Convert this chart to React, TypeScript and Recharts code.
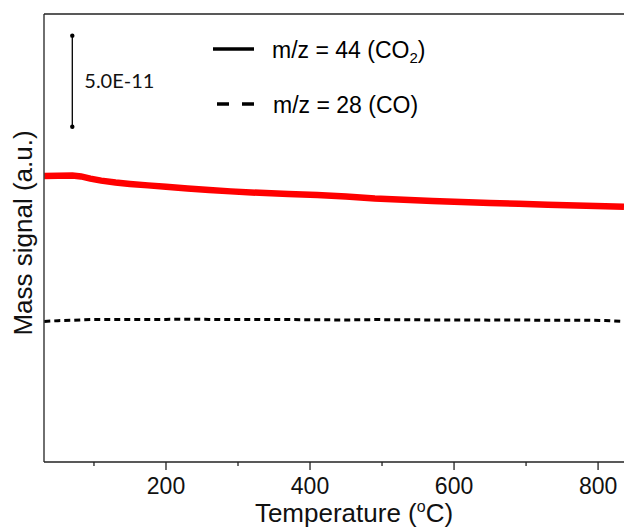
import { LineChart, Line, XAxis, YAxis, ReferenceLine, ReferenceDot } from 'recharts';

// temperature (°C) and mass signal (units of 1E-11, arbitrary offset)
const temps = [31, 50, 70, 82, 95, 110, 130, 150, 175, 200, 230, 260, 290, 330, 370, 410, 450, 490, 530, 570, 610, 650, 690, 730, 770, 810, 836];
const co2Signal = [15.71, 15.72, 15.73, 15.68, 15.56, 15.45, 15.35, 15.27, 15.19, 15.11, 15.02, 14.93, 14.86, 14.78, 14.72, 14.66, 14.58, 14.47, 14.4, 14.33, 14.28, 14.22, 14.18, 14.13, 14.08, 14.04, 14.01];
const coSignal = [7.72, 7.76, 7.78, 7.8, 7.82, 7.82, 7.82, 7.83, 7.83, 7.83, 7.84, 7.83, 7.82, 7.83, 7.82, 7.81, 7.8, 7.82, 7.81, 7.8, 7.8, 7.79, 7.8, 7.78, 7.79, 7.77, 7.72];

const xTicks = [100, 200, 300, 400, 500, 600, 700, 800];
const labelledTicks = [200, 400, 600, 800];

// scale bar: 5.0E-11
const scaleBarX = 69.9;
const scaleBarFrom = 18.41;
const scaleBarTo = 23.41;
const scaleBarText = '5.0E-11';

const X_DOMAIN: [number, number] = [30.6, 836];
const Y_DOMAIN: [number, number] = [0, 24.6];

const data = temps.map((t, i) => ({ temp: t, co2: co2Signal[i], co: coSignal[i] }));

const AXIS = '#222';
const SANS = '"Liberation Sans", Arial, sans-serif';

function XTick(props: any) {
  const { x, y, payload } = props;
  const major = labelledTicks.includes(payload.value);
  return (
    <g>
      <line x1={x} x2={x} y1={y} y2={y + (major ? 8 : 4)} stroke={AXIS} strokeWidth={1.3} />
      {major && (
        <text x={x} y={y + 32} textAnchor="middle" fontSize={23} fontFamily={SANS} fill="#111">
          {payload.value}
        </text>
      )}
    </g>
  );
}

function SeriesKey() {
  return (
    <svg width={624} height={130} style={{ position: 'absolute', left: 0, top: 0, pointerEvents: 'none' }}>
      <line x1={213} x2={254} y1={49} y2={49} stroke="#000" strokeWidth={3.5} />
      <text x={272} y={58} fontSize={23} fontFamily={SANS} fill="#000">
        m/z = 44 (CO<tspan fontSize={15} dy={5}>2</tspan><tspan dy={-5}>)</tspan>
      </text>
      <line x1={217} x2={254} y1={104} y2={104} stroke="#000" strokeWidth={3.5} strokeDasharray="12 13" />
      <text x={273} y={113} fontSize={23} fontFamily={SANS} fill="#000">
        m/z = 28 (CO)
      </text>
    </svg>
  );
}

export default function App() {
  return (
    <div style={{ position: 'absolute', left: 0, top: 0, width: 624, height: 530, background: '#fff' }}>
      <LineChart width={624} height={530} data={data} margin={{ top: 14, right: 0, bottom: 0, left: 0 }}>
        <XAxis
          dataKey="temp"
          type="number"
          domain={X_DOMAIN}
          ticks={xTicks}
          interval={0}
          allowDataOverflow
          height={68}
          tickSize={0}
          tickMargin={0}
          tickLine={false}
          tick={<XTick />}
          axisLine={{ stroke: AXIS, strokeWidth: 1.3 }}
          label={{
            content: () => (
              <text x={354} y={522} textAnchor="middle" fontSize={26} fontFamily={SANS} fill="#111">
                Temperature (<tspan fontSize={16} dy={-10}>o</tspan><tspan dy={10}>C)</tspan>
              </text>
            ),
          }}
        />
        <YAxis
          type="number"
          domain={Y_DOMAIN}
          allowDataOverflow
          width={44}
          tick={false}
          tickLine={false}
          axisLine={{ stroke: AXIS, strokeWidth: 1.3 }}
          label={{
            content: () => (
              <text transform="translate(32,233) rotate(-90)" textAnchor="middle" fontSize={26} fontFamily={SANS} fill="#111">
                Mass signal (a.u.)
              </text>
            ),
          }}
        />
        <ReferenceLine y={Y_DOMAIN[1]} stroke={AXIS} strokeWidth={1.3} />
        <ReferenceLine
          segment={[{ x: scaleBarX, y: scaleBarFrom }, { x: scaleBarX, y: scaleBarTo }]}
          stroke="#000"
          strokeWidth={1.3}
          label={{ value: scaleBarText, position: 'right', offset: 12, fontSize: 20, fontFamily: 'Lato, sans-serif', fill: '#111' }}
        />
        <ReferenceDot x={scaleBarX} y={scaleBarFrom} r={2.2} fill="#000" stroke="none" />
        <ReferenceDot x={scaleBarX} y={scaleBarTo} r={2.2} fill="#000" stroke="none" />
        <Line type="linear" dataKey="co2" stroke="#ff0000" strokeWidth={6.5} dot={false} isAnimationActive={false} />
        <Line type="linear" dataKey="co" stroke="#000" strokeWidth={3} strokeDasharray="6 4" dot={false} isAnimationActive={false} />
      </LineChart>
      <SeriesKey />
    </div>
  );
}
